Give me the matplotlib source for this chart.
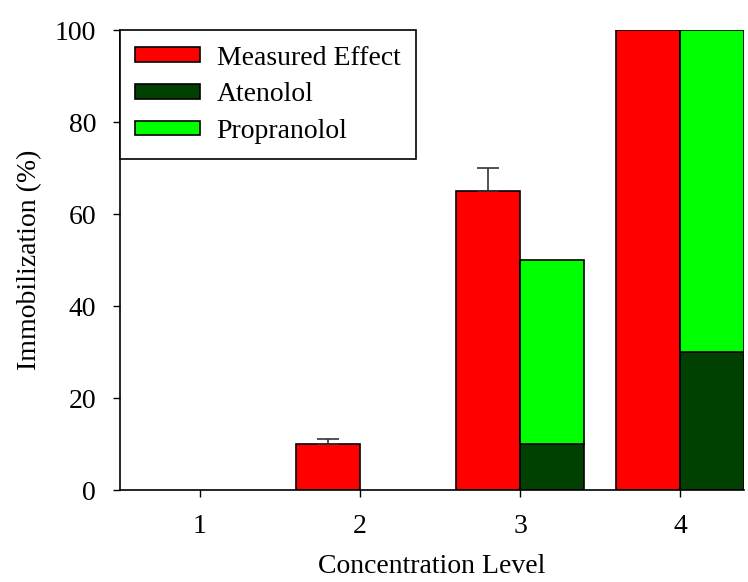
import matplotlib
matplotlib.use("Agg")
import matplotlib.pyplot as plt
import numpy as np

plt.rcParams['font.family'] = ['Liberation Serif', 'DejaVu Serif']

levels = [1, 2, 3, 4]
measured = [0, 10, 65, 100]
measured_err = [0, 1, 5, 0]
atenolol = [0, 0, 10, 30]
propranolol = [0, 0, 40, 70]

fig = plt.figure(figsize=(7.48, 5.82), dpi=100)
ax = fig.add_axes([0.160, 0.158, 0.835, 0.790])

x = np.array(levels, dtype=float)
w = 0.4
mask_m = np.array(measured) > 0
ax.bar(x[mask_m] - w, np.array(measured)[mask_m], width=w, align='edge',
       color='#ff0000', edgecolor='black', linewidth=1.2, label='Measured Effect', zorder=2)
mask_s = (np.array(atenolol) + np.array(propranolol)) > 0
ax.bar(x[mask_s], np.array(atenolol)[mask_s], width=w, align='edge',
       color='#004000', edgecolor='black', linewidth=1.2, label='Atenolol', zorder=2)
ax.bar(x[mask_s], np.array(propranolol)[mask_s], width=w, align='edge',
       bottom=np.array(atenolol)[mask_s],
       color='#00ff00', edgecolor='black', linewidth=1.2, label='Propranolol', zorder=2)

for xi, m, e in zip(x, measured, measured_err):
    if e > 0:
        ax.errorbar(xi - w / 2, m, yerr=[[0], [e]], fmt='none', ecolor='#333333',
                    elinewidth=1.2, capsize=8, capthick=1.2, zorder=3)

ax.set_xlim(0.5, 4.4)
ax.set_ylim(0, 100)
ax.set_xticks(levels)
ax.set_yticks([0, 20, 40, 60, 80, 100])
ax.spines['top'].set_visible(False)
ax.spines['right'].set_visible(False)
ax.spines['left'].set_linewidth(1.2)
ax.spines['bottom'].set_linewidth(1.2)
ax.tick_params(direction='out', length=5, width=1, labelsize=20, pad=12)
ax.set_xlabel('Concentration Level', fontsize=20, labelpad=11)
ax.set_ylabel('Immobilization (%)', fontsize=20, labelpad=9)

leg = ax.legend(loc='upper left', bbox_to_anchor=(0.0, 1.0), fontsize=20,
                frameon=True, fancybox=False, edgecolor='black', framealpha=1,
                borderaxespad=0, handlelength=2.34, handleheight=0.43,
                handletextpad=0.6, borderpad=0.55, labelspacing=0.42)
leg.get_frame().set_linewidth(1.2)

fig.savefig('out.png', dpi=100)
